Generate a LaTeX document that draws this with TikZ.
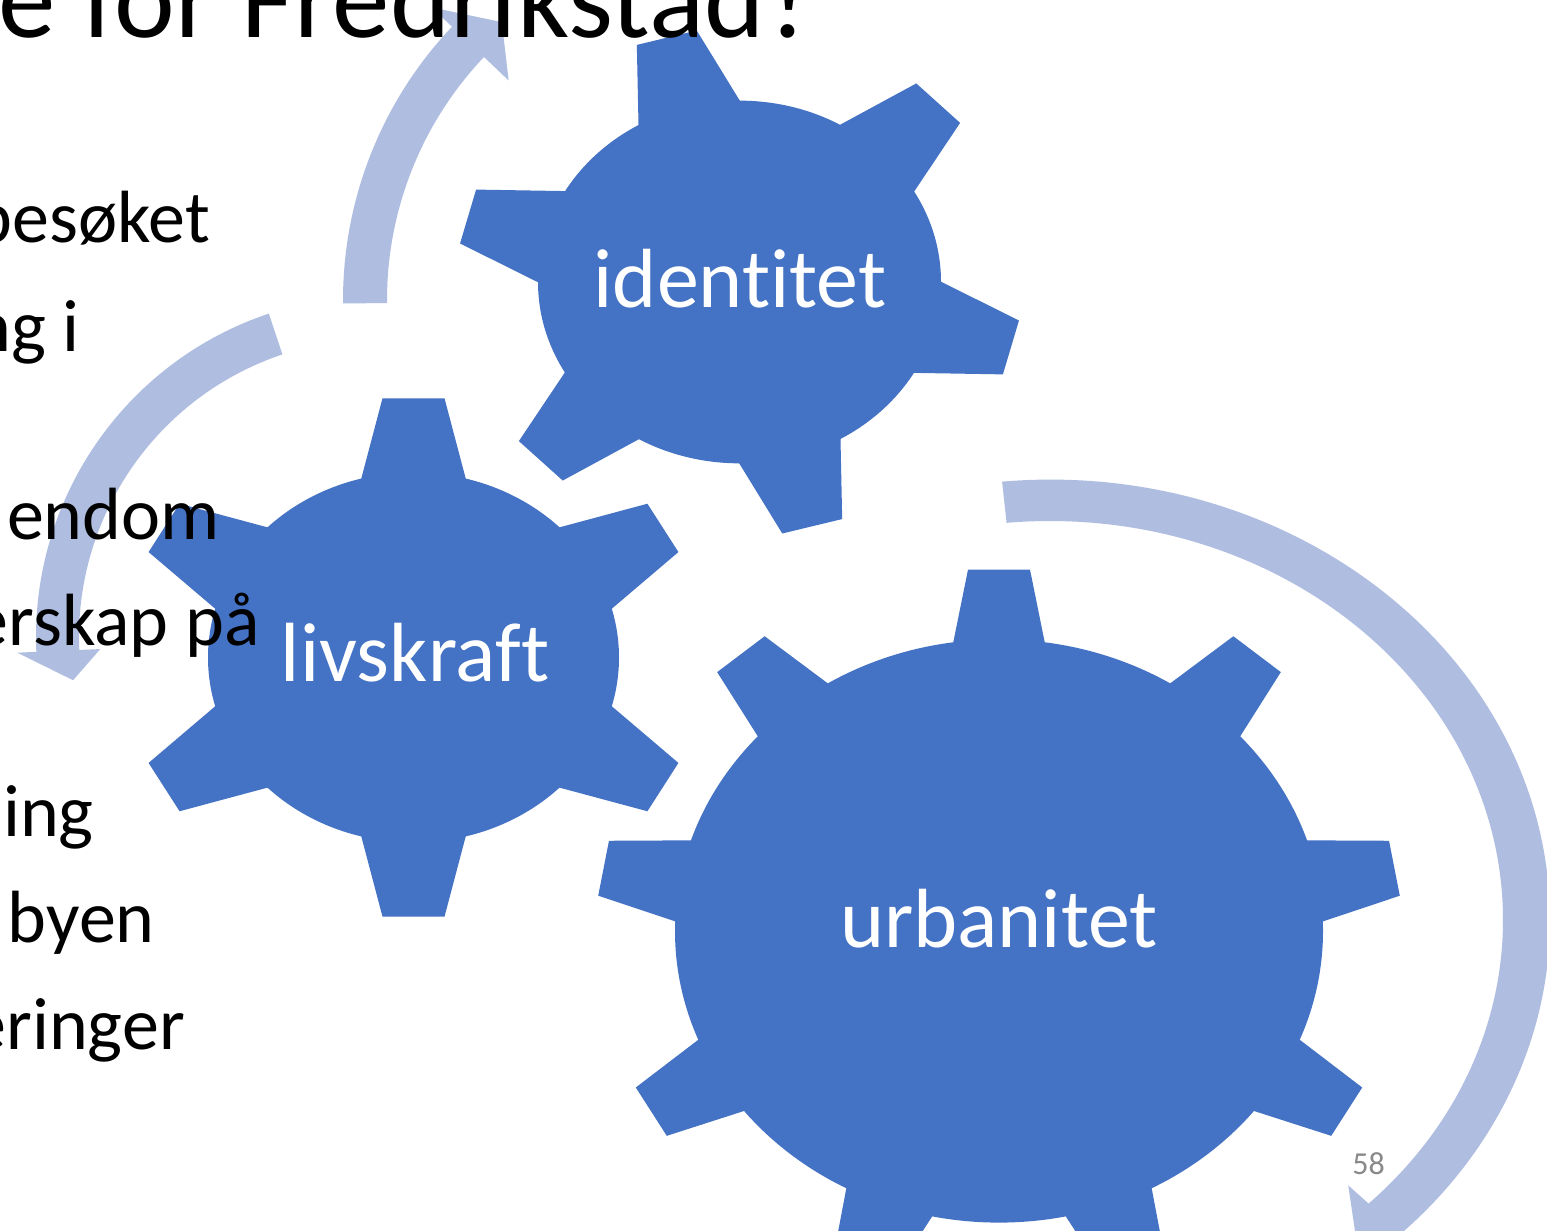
\documentclass[tikz,border=0pt]{standalone}
\usepackage{fontspec}
\setmainfont{Carlito}[Ligatures=NoCommon]
\definecolor{gearblue}{RGB}{68,114,196}
\definecolor{arrowblue}{RGB}{175,189,224}
\definecolor{pagegray}{RGB}{137,137,137}
\tikzset{
  gearfill/.style={fill=gearblue},
  arrowfill/.style={fill=arrowblue},
  gearlabel/.style={inner sep=0pt,anchor=base,text=white,font=\fontsize{84}{100}\selectfont},
  listtext/.style={inner sep=0pt,anchor=base east,text=black,font=\fontsize{74}{88}\selectfont},
  titletext/.style={inner sep=0pt,anchor=base east,text=black,font=\fontsize{115}{135}\selectfont},
  pagenum/.style={inner sep=0pt,anchor=base east,text=pagegray,font=\fontsize{32}{38}\selectfont}
}
% cx, cy, Rbody, Rtip, wtip, win, rin, angles
\newcommand{\mygear}[8]{%
  \begin{scope}[shift={(#1,#2)},yscale=0.9]
    \fill[gearfill] (0,0) circle[radius=#3];
    \foreach \a in {#8} {\fill[gearfill,rotate=\a] (#7,-#6) -- (#4,-#5) -- (#4,#5) -- (#7,#6) -- cycle;}
  \end{scope}}
\begin{document}
\begin{tikzpicture}[x=1pt,y=1pt]
\useasboundingbox (0,0) rectangle (1547,1231);
\fill[white] (0,0) rectangle (1547,1231);

% circular arrows
\begin{scope}[shift={(740,931)}]
  \fill[arrowfill] (180.5:397) arc[start angle=180.5,end angle=136.5,radius=397]
    -- (136.5:425) -- (130.6:366) -- (136.5:319) -- (136.5:353)
    arc[start angle=136.5,end angle=180.5,radius=353] -- cycle;
\end{scope}
\begin{scope}[shift={(377,594)}]
  \fill[arrowfill] (108.5:341) arc[start angle=108.5,end angle=182.5,radius=341]
    -- (182.5:360) -- (188.1:307) -- (182.5:277) -- (182.5:298)
    arc[start angle=182.5,end angle=108.5,radius=298] -- cycle;
\end{scope}
\begin{scope}[shift={(1050,311)},yscale=0.8808]
  \fill[arrowfill] (95.5:500) arc[start angle=95.5,end angle=-45.3,radius=500]
    -- (-45.3:530) -- (-50:477) -- (-45.3:424) -- (-45.3:453)
    arc[start angle=-45.3,end angle=95.5,radius=453] -- cycle;
\end{scope}

% gears
\mygear{739.5}{949}{201.5}{281}{31}{54.8}{185}{105,45,-15,-75,-135,165}
\mygear{413.5}{573.5}{205.5}{288}{31}{55.5}{185}{90,30,-30,-90,-150,150}
\mygear{999}{300}{324}{401.5}{31}{49.5}{300}{90,50,10,-30,-70,-110,-150,170,130}

% gear labels
\node[gearlabel] (lblI) at (740,923) {identitet};
\node[gearlabel] (lblL) at (415,549) {livskraft};
\node[gearlabel] (lblU) at (999,283) {urbanitet};

% title and list text
\node[titletext] (title) at (818,1193) {e for Fredrikstad?};
\node[listtext] (t1) at (210,988) {besøket};
\node[listtext] (t2) at (80,879) {ng i};
\node[listtext] (t3) at (220,691) {endom};
\node[listtext] (t4) at (260,585) {erskap på};
\node[listtext] (t5) at (94,394) {ing};
\node[listtext] (t6) at (155,288) {byen};
\node[listtext] (t7) at (185,181) {eringer};
\node[pagenum] (pg) at (1385,56) {58};
\end{tikzpicture}
\end{document}
